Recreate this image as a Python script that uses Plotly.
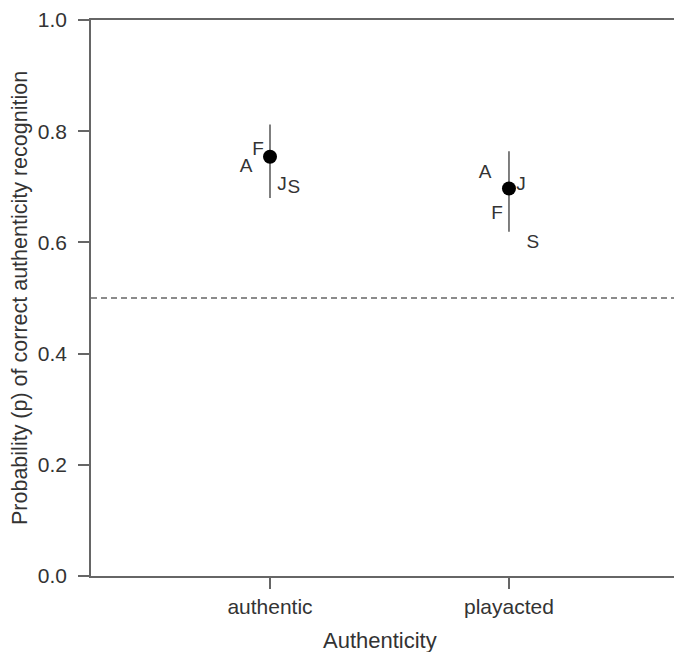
import plotly.graph_objects as go

# ---- data ----
categories = ["authentic", "playacted"]
mean_p = [0.754, 0.697]
ci_low = [0.680, 0.619]
ci_high = [0.812, 0.764]

group_labels = ["A", "F", "J", "S"]
group_p_authentic = [0.736, 0.766, 0.702, 0.698]
group_p_playacted = [0.724, 0.651, 0.703, 0.598]

y_ticks = [0.0, 0.2, 0.4, 0.6, 0.8, 1.0]
chance_level = 0.5

# ---- style constants ----
FONT = "Liberation Sans, Arial, sans-serif"
TXT = "#333333"
AX = "#666666"
label_offsets = {"A": -0.1, "F": -0.05, "J": 0.05, "S": 0.1}

xpos = [i + 1 for i in range(len(categories))]

fig = go.Figure()

# group letters
for xi, vals in zip(xpos, [group_p_authentic, group_p_playacted]):
    fig.add_trace(go.Scatter(
        x=[xi + label_offsets[l] for l in group_labels],
        y=vals,
        text=group_labels,
        mode="text",
        textposition="middle center",
        textfont=dict(family=FONT, size=19, color=TXT),
        showlegend=False, hoverinfo="skip",
    ))

# means with CI
fig.add_trace(go.Scatter(
    x=xpos, y=mean_p, mode="markers",
    marker=dict(color="black", size=14),
    error_y=dict(type="data", symmetric=False,
                 array=[h - m for h, m in zip(ci_high, mean_p)],
                 arrayminus=[m - l for m, l in zip(mean_p, ci_low)],
                 color="#555555", thickness=1.5, width=0),
    showlegend=False,
))

fig.add_shape(type="line", xref="paper", yref="y", x0=0, x1=1,
              y0=chance_level, y1=chance_level,
              line=dict(color="#666666", width=1.3, dash="6px,4px"))

fig.update_layout(
    width=674, height=644,
    margin=dict(l=83, r=0, t=12, b=76),
    paper_bgcolor="white", plot_bgcolor="white",
    font=dict(family=FONT, color=TXT, size=20),
    xaxis=dict(range=[0.251, 2.724], tickvals=xpos, ticktext=categories,
               showgrid=False, zeroline=False, showline=True, mirror=True,
               linecolor=AX, linewidth=1.5, ticks="outside", ticklen=11,
               tickcolor=AX, tickwidth=1.5,
               tickfont=dict(family=FONT, size=21, color=TXT)),
    yaxis=dict(range=[0, 1], tickvals=y_ticks,
               ticktext=[f"{v:.1f}" for v in y_ticks],
               showgrid=False, zeroline=False, showline=True,
               linecolor=AX, linewidth=1.5, ticks="outside", ticklen=11,
               tickcolor=AX, tickwidth=1.5, ticklabelstandoff=7,
               tickfont=dict(family=FONT, size=21, color=TXT)),
    annotations=[
        dict(text="Authenticity", xref="paper", yref="paper",
             x=0.489, y=0, yshift=-64, showarrow=False,
             xanchor="center", yanchor="middle",
             font=dict(family=FONT, size=22, color=TXT)),
        dict(text="Probability (p) of correct authenticity recognition",
             xref="paper", yref="paper", x=0, xshift=-71, y=0.5,
             showarrow=False, textangle=-90,
             xanchor="center", yanchor="middle",
             font=dict(family=FONT, size=21.5, color=TXT)),
    ],
)

fig.write_html("out.html")
